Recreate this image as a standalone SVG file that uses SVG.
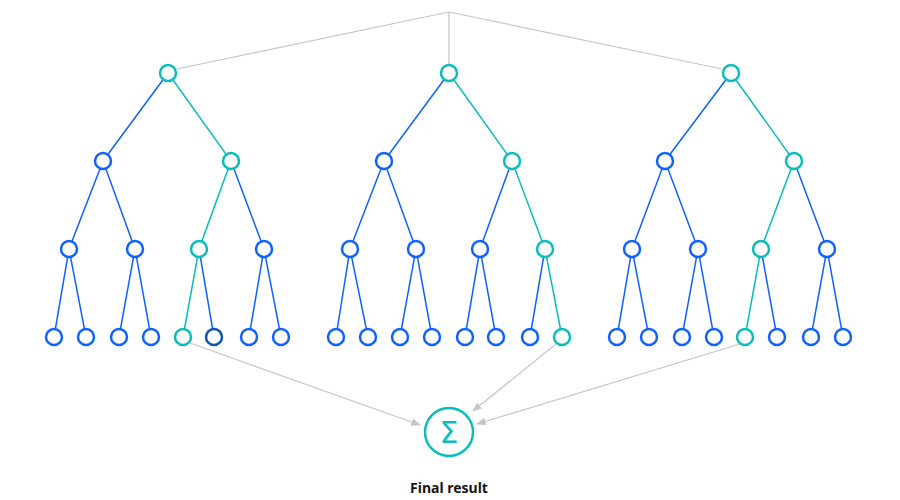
<svg xmlns="http://www.w3.org/2000/svg" width="900" height="500" viewBox="0 0 900 500">
<style>
.b{fill:#fff;stroke:#0f62fe;stroke-width:2.5}
.t{fill:#fff;stroke:#08bdba;stroke-width:2.5}
.eb{stroke:#0f62fe;stroke-width:1.5;fill:none}
.et{stroke:#08bdba;stroke-width:1.5;fill:none}
.g{stroke:#c6c6c6;stroke-width:1.2;fill:none}
</style>
<defs><marker id="a" viewBox="0 0 10 10" refX="9" refY="5" markerWidth="8" markerHeight="8" orient="auto"><path d="M0,1 L10,5 L0,9 Z" fill="#c6c6c6"/></marker></defs>
<rect width="900" height="500" fill="#fff"/>
<g id="connectors">
<path class="g" d="M449,12 L177,69 M449,12 L449,64 M449,12 L722,69"/>
<path class="g" marker-end="url(#a)" d="M190,343 L420,425"/>
<path class="g" marker-end="url(#a)" d="M556,344 L473,411"/>
<path class="g" marker-end="url(#a)" d="M753,340 L477,424"/>
<!-- tree1 -->
<path class="eb" d="M168,73 L103,161 M103,161 L69,249 M103,161 L135,249 M69,249 L54,337 M69,249 L86,337 M135,249 L119,337 M135,249 L151,337 M231,161 L264,249 M199,249 L214,337 M264,249 L249,337 M264,249 L281,337"/>
<path class="et" d="M168,73 L231,161 L199,249 L183,337"/>
<!-- tree2 -->
<path class="eb" d="M449,73 L384,161 M384,161 L350,249 M384,161 L416,249 M350,249 L336,337 M350,249 L368,337 M416,249 L400,337 M416,249 L432,337 M512,161 L480,249 M480,249 L465,337 M480,249 L496,337 M545,249 L530,337"/>
<path class="et" d="M449,73 L512,161 L545,249 L562,337"/>
<!-- tree3 -->
<path class="eb" d="M731,73 L665,161 M665,161 L632,249 M665,161 L698,249 M632,249 L617,337 M632,249 L649,337 M698,249 L682,337 M698,249 L714,337 M794,161 L827,249 M761,249 L777,337 M827,249 L811,337 M827,249 L843,337"/>
<path class="et" d="M731,73 L794,161 L761,249 L745,337"/>
</g>
<g id="tree1">
<circle class="t" cx="168" cy="73" r="8"/>
<circle class="b" cx="103" cy="161" r="8"/><circle class="t" cx="231" cy="161" r="8"/>
<circle class="b" cx="69" cy="249" r="8"/><circle class="b" cx="135" cy="249" r="8"/><circle class="t" cx="199" cy="249" r="8"/><circle class="b" cx="264" cy="249" r="8"/>
<circle class="b" cx="54" cy="337" r="8"/><circle class="b" cx="86" cy="337" r="8"/><circle class="b" cx="119" cy="337" r="8"/><circle class="b" cx="151" cy="337" r="8"/><circle class="t" cx="183" cy="337" r="8"/><circle class="b" cx="214" cy="337" r="8" style="stroke:#0a55b0"/><circle class="b" cx="249" cy="337" r="8"/><circle class="b" cx="281" cy="337" r="8"/>
</g>
<g id="tree2">
<circle class="t" cx="449" cy="73" r="8"/>
<circle class="b" cx="384" cy="161" r="8"/><circle class="t" cx="512" cy="161" r="8"/>
<circle class="b" cx="350" cy="249" r="8"/><circle class="b" cx="416" cy="249" r="8"/><circle class="b" cx="480" cy="249" r="8"/><circle class="t" cx="545" cy="249" r="8"/>
<circle class="b" cx="336" cy="337" r="8"/><circle class="b" cx="368" cy="337" r="8"/><circle class="b" cx="400" cy="337" r="8"/><circle class="b" cx="432" cy="337" r="8"/><circle class="b" cx="465" cy="337" r="8"/><circle class="b" cx="496" cy="337" r="8"/><circle class="b" cx="530" cy="337" r="8"/><circle class="t" cx="562" cy="337" r="8"/>
</g>
<g id="tree3">
<circle class="t" cx="731" cy="73" r="8"/>
<circle class="b" cx="665" cy="161" r="8"/><circle class="t" cx="794" cy="161" r="8"/>
<circle class="b" cx="632" cy="249" r="8"/><circle class="b" cx="698" cy="249" r="8"/><circle class="t" cx="761" cy="249" r="8"/><circle class="b" cx="827" cy="249" r="8"/>
<circle class="b" cx="617" cy="337" r="8"/><circle class="b" cx="649" cy="337" r="8"/><circle class="b" cx="682" cy="337" r="8"/><circle class="b" cx="714" cy="337" r="8"/><circle class="t" cx="745" cy="337" r="8"/><circle class="b" cx="777" cy="337" r="8"/><circle class="b" cx="811" cy="337" r="8"/><circle class="b" cx="843" cy="337" r="8"/>
</g>
<g id="sum">
<circle cx="449" cy="432" r="24" fill="#fff" stroke="#08bdba" stroke-width="2.5"/>
<text x="449" y="443" text-anchor="middle" font-family="DejaVu Sans, sans-serif" font-size="30" fill="#08bdba">Σ</text>
<text x="449" y="493" text-anchor="middle" font-family="Noto Sans, sans-serif" font-weight="bold" font-size="14" fill="#161616">Final result</text>
</g>
</svg>
